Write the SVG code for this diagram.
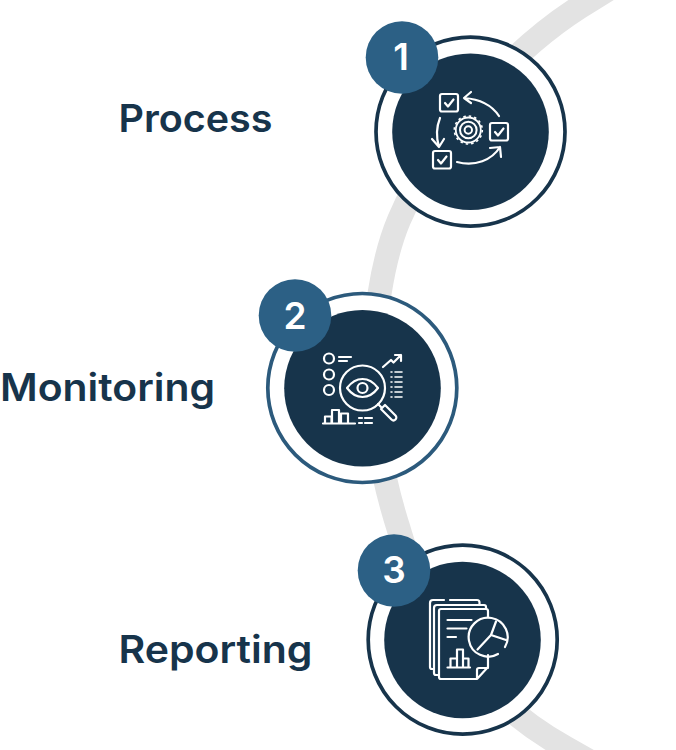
<svg xmlns="http://www.w3.org/2000/svg" width="676" height="750" viewBox="0 0 676 750">
<style>
.lbl{font-family:"Inter","Liberation Sans",sans-serif;font-weight:600;font-size:38px;fill:#17344b}
.num{font-family:"Inter","Liberation Sans",sans-serif;font-weight:600;font-size:37px;fill:#fff;text-anchor:middle}
.ring{fill:#fff;stroke:#17344b;stroke-width:3.700}
.core{fill:#17344b}
.badge{fill:#2c6085}
.i{fill:none;stroke:#fff;stroke-width:2.200;stroke-linecap:round;stroke-linejoin:round}
</style>
<rect width="676" height="750" fill="#fff"/>
<g id="connectors"><path id="band" d="M612 -13L591 0C520 42 440 125 399 220C383 258 372 320 374 385C374 430 383 480 399 530C422 610 470 695 566 748L596 765" fill="none" stroke="#e3e3e3" stroke-width="24"/></g>
<g id="node-1">
<text class="lbl" x="118.500" y="131.500" textLength="154" lengthAdjust="spacingAndGlyphs">Process</text>
<circle class="ring" cx="470.500" cy="131.700" r="94.500"/><circle class="core" cx="470.500" cy="131.700" r="78.300"/>
<circle class="badge" cx="402" cy="57.500" r="36.300"/><text class="num" x="401" y="70">1</text>
<g class="i">
<rect x="440" y="94" width="18" height="17.500" rx="2"/><path d="M445 103l3 3.500 5.500-7"/>
<rect x="490" y="123" width="18" height="17.500" rx="2"/><path d="M495 132l3 3.500 5.500-7"/>
<rect x="433" y="151" width="18" height="17.500" rx="2"/><path d="M438 160l3 3.500 5.500-7"/>
<path d="M499 116C491 104 479 99 464 98M471 92l-7 6 7 5"/>
<path d="M440 118C436 128 436 137 439 147M432 139l7 8 5-8"/>
<path d="M457 162C475 167 492 160 500 147M490 148l10-1 1 10"/>
<circle cx="468.300" cy="130" r="8.300" stroke-width="2"/><circle cx="468.300" cy="130" r="3.700" stroke-width="2"/>
<circle cx="468.300" cy="130" r="12.500" stroke-width="1.800"/><circle cx="468.300" cy="130" r="14" stroke-width="1.600" stroke-dasharray="2.500 3" stroke-linecap="butt"/>
</g></g>
<g id="node-2">
<text class="lbl" x="0" y="401" textLength="215" lengthAdjust="spacingAndGlyphs">Monitoring</text>
<circle class="ring" style="stroke:#2c5a7c" cx="362.300" cy="388" r="94.500"/><circle class="core" cx="362.500" cy="388.300" r="78.300"/>
<circle class="badge" cx="295" cy="315.500" r="36.300"/><text class="num" x="295" y="329">2</text>
<g class="i">
<circle cx="329" cy="358.500" r="5"/><circle cx="329" cy="374.500" r="5"/><circle cx="329" cy="390" r="5"/>
<path d="M339 357h12M339 361h8"/>
<path d="M383 367l8-7 2.500 2.500 7.500-7.500M395 355h6v6"/>
<path d="M391 372h1M395 372h7M391 377h1M395 377h7M391 382h1M395 382h7M391 387h1M395 387h7M391 392h1M395 392h7M391 397h1M395 397h7" stroke-width="1.600"/>
<circle cx="362.500" cy="388" r="22.500"/>
<path d="M347 388C356 376 369 376 378 388C369 400 356 400 347 388Z"/><circle cx="362.500" cy="388" r="5"/>
<path d="M378 404l3.500 3.500M381 409l4-4 10.500 10.500a2.800 2.800 0 0 1-4 4Z"/>
<path d="M323 423.500h32M325 423.500v-7h6.500v7M332 423.500v-13.500h7v13.500M341 423.500v-10h7v10"/>
<path d="M359 418h3M365 418h7M359 423h3M365 423h7"/>
</g></g>
<g id="node-3">
<text class="lbl" x="118.500" y="663" textLength="194" lengthAdjust="spacingAndGlyphs">Reporting</text>
<circle class="ring" cx="462.700" cy="639.700" r="94.500"/><circle class="core" cx="462.500" cy="640" r="78.300"/>
<circle class="badge" cx="394" cy="570.500" r="36.300"/><text class="num" x="394" y="583">3</text>
<g class="i">
<path d="M434 669h-2a2 2 0 0 1-2-2V603a3 3 0 0 1 3-3h11M450 600h27a2.500 2.500 0 0 1 2.500 2.500V605"/>
<path d="M438.500 675h-2.500a2 2 0 0 1-2-2V608a3 3 0 0 1 3-3h47a2 2 0 0 1 2 2v2"/>
<path d="M488 617v-6a2 2 0 0 0-2-2H441a2 2 0 0 0-2 2V677a2 2 0 0 0 2 2h36l11-12v-12M477 679v-9a2 2 0 0 1 2-2h9"/>
<path d="M447.500 620h24M447.500 628.500h19M447.500 637h8.500"/>
<path d="M447.500 667.500h22.500M450.500 667.500v-9h6.500M457 667.500v-18h6v18M463 658.500h5.500v9"/>
<path d="M498 654A19.500 19.500 0 1 1 505 647"/>
<path d="M491 635l5-13.500M491 635l15 5M491 635l-13.500 14.500"/>
</g></g>
</svg>
